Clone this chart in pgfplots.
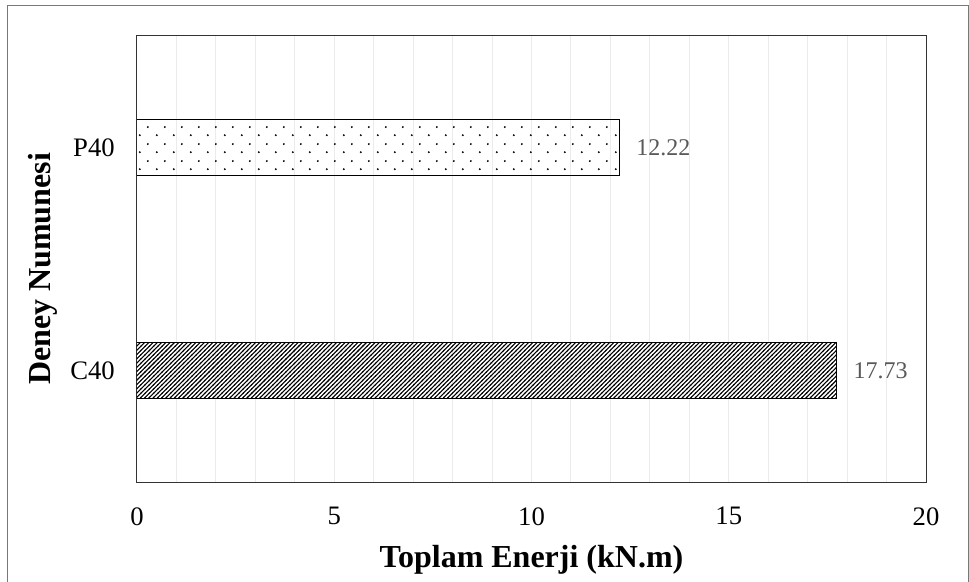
\documentclass[border=0pt]{standalone}
\usepackage{fontspec}
\setmainfont{Liberation Serif}
\usepackage{pgfplots}
\pgfplotsset{compat=1.18}
\usetikzlibrary{patterns}

% staggered dot fill
\pgfdeclarepatternformonly{sparsedots}{\pgfpointorigin}{\pgfpoint{12.75pt}{12.75pt}}{\pgfpoint{12.75pt}{12.75pt}}{%
  \pgfpathcircle{\pgfpoint{3pt}{3pt}}{0.85pt}%
  \pgfpathcircle{\pgfpoint{9.375pt}{9.375pt}}{0.85pt}%
  \pgfusepath{fill}%
}
% dense upward diagonal hatching
\pgfdeclarepatternformonly{densediag}{\pgfpoint{-0.5pt}{-0.5pt}}{\pgfpoint{3.7pt}{3.7pt}}{\pgfpoint{3.2pt}{3.2pt}}{%
  \pgfsetlinewidth{0.8pt}%
  \pgfpathmoveto{\pgfpoint{-0.5pt}{-0.5pt}}%
  \pgfpathlineto{\pgfpoint{3.7pt}{3.7pt}}%
  \pgfusepathqstroke%
}

\definecolor{gridgray}{RGB}{235,235,235}
\definecolor{labelgray}{RGB}{89,89,89}
\definecolor{framegray}{RGB}{120,120,120}

\begin{document}
\begin{tikzpicture}
  \useasboundingbox[x=0.75pt,y=0.75pt] (-137,-99) rectangle (832,482);
  \draw[x=0.75pt,y=0.75pt,framegray,line width=0.75pt] (-129,-110) rectangle (831,476);
  \begin{axis}[
    at={(0,0)}, anchor=south west,
    scale only axis,
    width=591.75pt, height=334.5pt,
    xbar, bar width=0.25, bar shift=0pt,
    xmin=0, xmax=20,
    ymin=-0.5, ymax=1.5,
    xtick={0,5,10,15,20},
    minor x tick num=4,
    ytick={0,1},
    yticklabels={C40,P40},
    major tick length=0pt, minor tick length=0pt,
    xmajorgrids, xminorgrids,
    major grid style={gridgray, line width=0.75pt},
    minor grid style={gridgray, line width=0.75pt},
    axis line style={black!80, line width=0.75pt},
    /pgf/number format/assume math mode=true,
    ticklabel style={font=\fontsize{20}{24}\selectfont, inner sep=0pt},
    xticklabel style={anchor=north, yshift=-18.75pt},
    yticklabel style={anchor=east, xshift=-16.5pt},
    xlabel={Toplam Enerji (kN.m)},
    ylabel={Deney Numunesi},
    xlabel style={font=\fontsize{24}{28}\selectfont\bfseries, at={(rel axis cs:0.5,0)}, anchor=base, yshift=-63.75pt, inner sep=0pt},
    ylabel style={font=\fontsize{24}{28}\selectfont\bfseries, at={(rel axis cs:-0.1191,0.4776)}, anchor=center, inner sep=0pt},
    nodes near coords,
    nodes near coords style={font=\fontsize{18}{22}\selectfont, text=labelgray, anchor=west, inner sep=0pt, xshift=12.5pt,
      /pgf/number format/.cd, fixed, fixed zerofill, precision=2, assume math mode=true},
  ]
    \addplot[draw=black, line width=0.75pt, pattern=densediag, pattern color=black] coordinates {(17.73,0)};
    \addplot[draw=black, line width=0.75pt, pattern=sparsedots, pattern color=black] coordinates {(12.22,1)};
  \end{axis}
\end{tikzpicture}
\end{document}
